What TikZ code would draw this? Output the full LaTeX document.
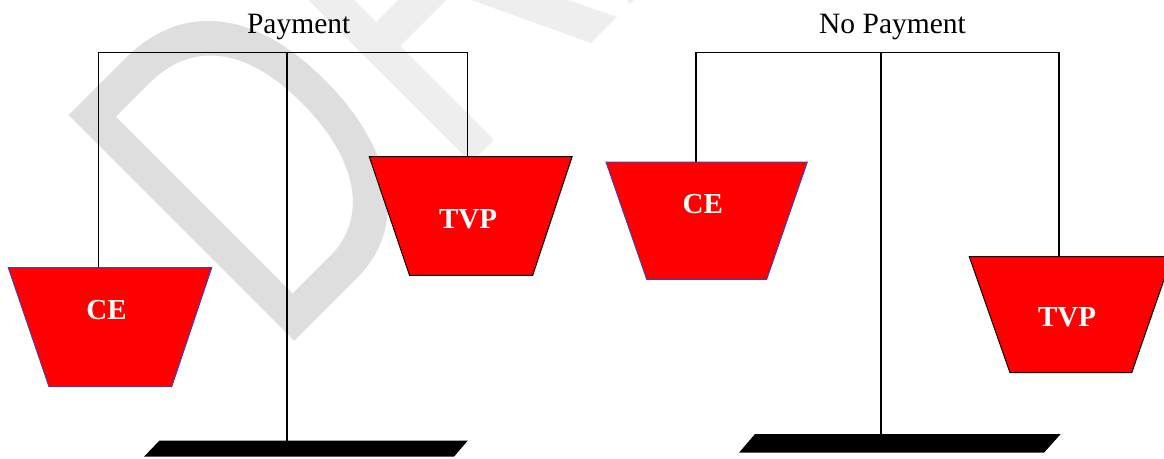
\documentclass[tikz,border=0pt]{standalone}
\usepackage{fontspec}
\usepackage{graphicx}
\setmainfont{Liberation Serif}
\newfontfamily\wmfont{Liberation Sans}
\definecolor{wmD}{RGB}{222,222,222}
\definecolor{wmR}{RGB}{238,238,238}
\definecolor{panred}{RGB}{255,0,0}
\definecolor{ceedge}{RGB}{72,64,168}
\tikzset{
  beam/.style={line width=1.2pt, draw=black},
  pan/.style={fill=panred, line width=1pt},
  ceoutline/.style={draw=ceedge},
  tvpoutline/.style={draw=black},
  pantext/.style={text=white, font={\fontsize{29}{29}\selectfont\bfseries}, inner sep=0pt, anchor=base},
  titletext/.style={font={\fontsize{29.5}{30}\selectfont}, inner sep=0pt, anchor=base},
  basefill/.style={fill=black},
}
\begin{document}
\begin{tikzpicture}[x=1pt,y=-1pt]
\useasboundingbox (0,0) rectangle (1164,458);
\clip (0,0) rectangle (1164,458);
% watermark
\node[rotate=45, anchor=base west, inner sep=0pt, outer sep=0pt,
      font={\wmfont\fontsize{464}{464}\selectfont}] (wm) at (274,361)
      {\scalebox{0.75}[1]{\textcolor{wmD}{D}\textcolor{wmR}{RAFT}}};

% ---------- left scale ----------
\node[titletext] (Ltitle) at (298.7,33) {Payment};
\coordinate (Lbl) at (98.7,52.3);
\coordinate (Ltop) at (287,52.3);
\coordinate (Lbr) at (467.7,52.3);
\coordinate (Lfoot) at (287,440.7);
\coordinate (LCEhook) at (98.7,267.7);
\coordinate (LTVPhook) at (467.7,156.7);
\draw[beam] (Ltop) -- (Lfoot);
\draw[beam] (Lbl) -- (Lbr);
\draw[beam] (Lbl) -- (LCEhook);
\draw[beam] (Lbr) -- (LTVPhook);
\path[pan, ceoutline] (8.3,267.7) -- (211.7,267.7) -- (171.7,386.7) -- (49,386.7) -- cycle;
\node[pantext] (LCE) at (106.5,319) {CE};
\path[pan, tvpoutline] (369.3,156.7) -- (572.1,156.7) -- (532.7,275.3) -- (409.5,275.3) -- cycle;
\node[pantext] (LTVP) at (468,228) {TVP};
\fill[basefill] (159.3,440.7) -- (467.7,440.7) -- (454,456.7) -- (144,456.7) -- cycle;

% ---------- right scale ----------
\node[titletext] (Rtitle) at (892.5,33) {No Payment};
\coordinate (Rbl) at (696,52.3);
\coordinate (Rtop) at (881,52.3);
\coordinate (Rbr) at (1059,52.3);
\coordinate (Rfoot) at (881,434);
\coordinate (RCEhook) at (696,162);
\coordinate (RTVPhook) at (1059,256.7);
\draw[beam] (Rtop) -- (Rfoot);
\draw[beam] (Rbl) -- (Rbr);
\draw[beam] (Rbl) -- (RCEhook);
\draw[beam] (Rbr) -- (RTVPhook);
\path[pan, ceoutline] (606,162) -- (807.3,162) -- (766.7,279.3) -- (646.7,279.3) -- cycle;
\node[pantext] (RCE) at (702.7,213.3) {CE};
\path[pan, tvpoutline] (969.3,256.7) -- (1172,256.7) -- (1131.7,372.7) -- (1010,372.7) -- cycle;
\node[pantext] (RTVP) at (1067,326.7) {TVP};
\fill[basefill] (755,434) -- (1060.7,434) -- (1044,452.7) -- (739,452.7) -- cycle;
\end{tikzpicture}
\end{document}
